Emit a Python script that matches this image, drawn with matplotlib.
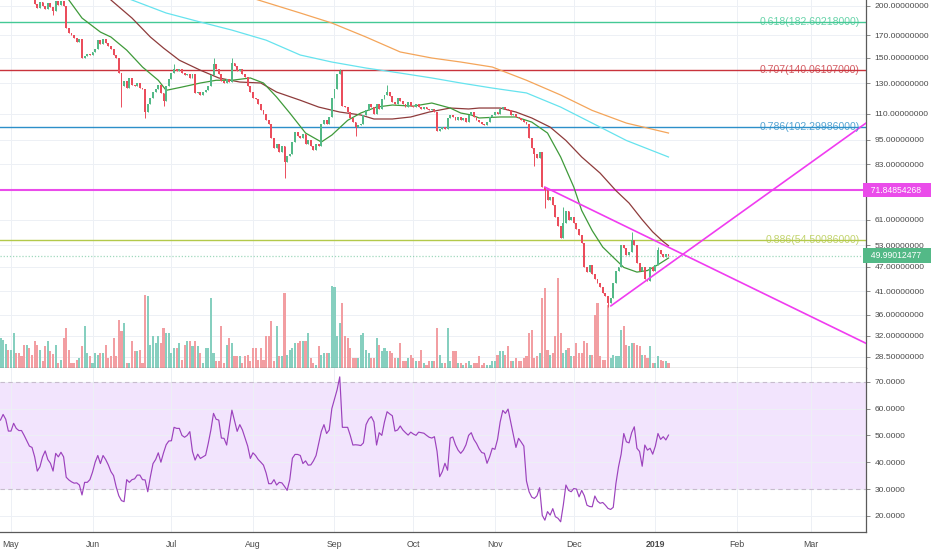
import numpy as np
import pandas as pd
import matplotlib
matplotlib.use('Agg')
import matplotlib.pyplot as plt
from matplotlib import transforms
from matplotlib.ticker import FixedLocator, NullLocator, FormatStrFormatter

plt.rcParams['font.family'] = ['Liberation Sans', 'DejaVu Sans']

# x axis = days counted from 2018-05-01, first candle is 2018-04-27
START = pd.Timestamp('2018-05-01')
FIRST_DAY = -4

close = [
    246, 252, 259, 251,
    262, 268, 256, 249, 241, 236, 243, 229, 218,
    202, 198, 204, 200, 196, 203, 199, 194, 205, 201, 206, 200,
    177, 172, 170, 167, 164, 166, 150, 151, 153, 152,
    155, 157, 165, 162, 166, 163, 160, 157, 152, 150,
    138, 128, 132, 127, 134, 129, 128, 130, 127, 126,
    111, 116, 120, 124, 126, 129, 123, 118, 128, 133,
    138, 141, 139, 141, 138, 136, 137, 134, 137, 123,
    124, 122, 124, 125, 128, 136, 145, 141, 137, 132,
    130, 133, 131, 146, 143, 139, 141, 137, 135, 128,
    124, 120, 119, 116, 112, 110, 106, 104, 96, 91,
    93, 89, 92, 84, 87, 88, 94, 99, 97, 96,
    98, 93, 95, 92, 90, 93, 92, 104, 106, 104,
    108, 120, 126, 137, 139, 115, 114, 111, 107, 105,
    102, 103, 104, 109, 112, 116, 114, 110, 116, 113,
    119, 122, 124, 121, 117, 116, 120, 118, 116, 114,
    117, 115, 114, 116, 114, 113, 114, 113, 112, 113,
    111, 100, 101, 102, 101, 107, 109, 108, 106, 108,
    106, 107, 105, 109, 111, 108, 106, 105, 104, 103,
    105, 108, 109, 111, 110, 113, 114, 113, 112, 109,
    110, 108, 107, 106, 105, 104, 96, 91, 88, 86,
    89, 73, 72, 68, 69, 66, 62, 59, 55, 60,
    64, 61, 62, 60, 58, 56, 53.5, 47, 45.5, 47.5,
    45, 44, 43, 42, 40.5, 40, 38.5, 39.5, 43, 46,
    47, 53, 52, 50, 51, 54.5, 53, 48, 46, 47,
    44, 43.5, 47, 46, 47.5, 51.5, 50.5, 49.5, 50.5, 49.99012477,
]

volume = [
    30, 28, 24, 18,
    18, 35, 15, 15, 12, 23, 23, 20, 13,
    27, 23, 18, 7, 22, 27, 17, 14, 23, 5, 8, 30,
    40, 18, 5, 5, 8, 10, 22, 42, 15, 12,
    5, 15, 13, 15, 15, 23, 10, 12, 30, 12,
    48, 37, 45, 5, 5, 27, 17, 17, 18, 5,
    73, 72, 23, 32, 25, 32, 25, 40, 35, 35,
    15, 20, 20, 25, 8, 23, 27, 27, 22, 27,
    22, 15, 5, 20, 20, 70, 15, 7, 7, 42,
    5, 23, 30, 25, 12, 12, 12, 5, 12, 13,
    7, 20, 20, 8, 20, 8, 32, 32, 47, 7,
    42, 12, 12, 75, 13, 18, 20, 25, 25, 27,
    27, 27, 35, 10, 5, 3, 22, 13, 15, 15,
    15, 82, 81, 32, 45, 65, 32, 30, 20, 10,
    10, 10, 33, 35, 18, 15, 10, 10, 30, 23,
    17, 20, 17, 17, 15, 10, 10, 25, 7, 7,
    10, 13, 10, 7, 7, 18, 5, 3, 7, 7,
    7, 40, 13, 5, 5, 40, 7, 17, 17, 5,
    5, 3, 5, 7, 3, 5, 5, 12, 3, 5,
    3, 3, 7, 7, 13, 17, 17, 13, 22, 7,
    7, 10, 7, 7, 10, 12, 35, 38, 10, 12,
    15, 70, 80, 18, 13, 15, 32, 90, 35, 15,
    18, 20, 12, 12, 25, 15, 15, 27, 25, 13,
    13, 53, 65, 12, 8, 8, 63, 10, 13, 12,
    12, 38, 42, 23, 22, 25, 25, 23, 22, 13,
    13, 10, 22, 5, 5, 12, 8, 7, 7, 5,
]

rsi = [
    55.7, 57.8, 56, 51.6,
    51.6, 54.5, 52.6, 51.8, 51.8, 50, 48, 46, 45.5,
    42, 36.7, 38.3, 42, 44.2, 41, 39.6, 36.7, 43.3, 42, 43.7, 42,
    34.4, 33.4, 32.7, 32.2, 32.3, 31.5, 27.8, 32.5, 32.5, 33.5,
    36.3, 40, 42.5, 39.5, 42.5, 41, 39, 36.5, 35, 30.8,
    27.5, 25.7, 25.3, 33.5, 32.5, 33.5, 33.8, 35.2, 35.2, 33.5,
    33.4, 29, 34.6, 39.5, 41, 43.5, 40, 43.5, 46.5, 47.9,
    48, 53, 52.6, 52.6, 50, 49.3, 50, 51.4, 44, 40.8,
    43, 41.4, 42, 42.6, 47, 52, 58.2, 56, 55.7, 49,
    48.9, 46.4, 53, 59.4, 55.5, 51.5, 54, 52, 49, 46,
    41.4, 43.5, 42.5, 41, 40, 38.9, 36, 32, 32, 33.5,
    31.5, 32.5, 32.3, 31, 29.5, 33.5, 41.5, 42.9, 42.9, 42.5,
    39.5, 40.5, 38.9, 39, 40.5, 42.5, 47, 51.5, 54, 50.7,
    52, 60, 63.5, 67, 71.8, 53, 53, 53, 50, 46.4,
    46.5, 46.4, 46.2, 47.2, 54, 56, 57, 55, 46.4, 51,
    50, 55, 58.8, 58, 57.3, 51.6, 52, 53.5, 52, 51,
    50.1, 51.2, 50.5, 50, 51.2, 51, 50.8, 50, 49.3, 49,
    49.5, 44, 34.6, 36.5, 39.6, 37, 49, 49.4, 46.5, 44.5,
    43.3, 44.5, 46.5, 50, 51, 48.5, 47, 45, 43.6, 43.3,
    39.6, 42, 45.2, 44.8, 48.5, 55, 59.3, 58.2, 59.8, 55,
    50, 45.5, 48.9, 47.5, 46, 33, 29, 27, 26.5, 27.5,
    30.5, 20.2, 18.4, 21.6, 20.3, 22.7, 19.7, 19.1, 17.8, 24,
    31.5, 29.5, 29, 30.2, 30, 27.1, 29.5, 27.5, 24, 23.5,
    23.4, 27.4, 25.5, 24.7, 25, 24, 22.8, 22.4, 23.2, 32,
    38.3, 43, 50.7, 47.6, 47.2, 51, 53.2, 45.2, 44, 38.5,
    46.4, 44.5, 45.2, 43, 46, 50.7, 48.5, 49.5, 48.3, 50.1,
]

# notable wicks (day -> price); other candles drawn without wicks
wick_high = {62: 145, 77: 150, 84: 150, 125: 141, 143: 129, 210: 65.5, 236: 57, 246: 52.5}
wick_low = {16: 190, 42: 114, 51: 107, 58: 115, 104: 77, 131: 97, 199: 82, 203: 65, 227: 37.5}

# moving averages (day, price)
ma_green_d = [17, 22, 27, 34, 38, 44, 50, 56, 59, 65, 72, 78, 84, 91, 96, 101, 106, 112, 118,
              122, 128, 133, 139, 145, 153, 160, 167, 171, 175, 178, 186, 192, 198, 204, 209,
              214, 217, 221, 225, 229, 233, 238, 242, 246, 250]
ma_green_p = [226, 206.6, 186.9, 172.9, 168.2, 156.4, 142.4, 132.3, 125.1, 127.4, 130.3, 132.3,
              132.3, 134.0, 130.3, 120.5, 110.3, 98.7, 93.9, 97.6, 105.9, 110.3, 114.0, 115.3,
              114.6, 116.6, 113.4, 110.3, 109.1, 107.3, 107.9, 107.9, 104.9, 98.7, 86.4, 73.1,
              64.2, 57.4, 52.4, 49.5, 46.8, 45.6, 46.0, 47.5, 49.3]
ma_maroon_d = [34, 38, 46, 53, 58, 64, 72, 79, 87, 95, 101, 110, 117, 125, 133, 138, 145, 152,
               159, 167, 174, 178, 186, 192, 198, 205, 211, 217, 224, 230, 235, 240, 244, 248, 250]
ma_maroon_p = [222, 206.6, 186.9, 168.2, 158.2, 147.9, 139.9, 134.0, 131.0, 130.3, 123.9, 118.4,
               114.0, 110.9, 109.1, 106.7, 106.7, 107.9, 110.9, 113.4, 112.8, 113.4, 113.4, 110.9,
               107.3, 102.0, 94.7, 86.4, 79.0, 71.7, 66.9, 61.0, 57.0, 54.0, 52.8]
ma_cyan_d = [36, 46, 59, 72, 84, 97, 110, 122, 135, 148, 160, 171, 183, 196, 209, 221, 234, 250]
ma_cyan_p = [218, 206.6, 192.2, 182.8, 174.8, 165.3, 152.2, 146.4, 141.6, 137.7, 134.0, 130.3,
             126.7, 123.3, 114.0, 104.3, 94.7, 86.4]
ma_orange_d = [87, 94, 110, 122, 135, 148, 160, 171, 183, 196, 209, 221, 234, 250]
ma_orange_p = [213.6, 206.6, 192.2, 181.8, 168.2, 154.8, 149.7, 146.4, 142.4, 132.3, 121.9,
               111.9, 104.3, 98.7]

fib_ratio = ['0.618', '0.707', '0.786', '0.886']
fib_price = [182.60218, 140.06107, 102.29986, 54.50086]
fib_color = ['#44c995', '#c9333c', '#2d8fc9', '#b3c94a']

resistance = 71.84854268
last_price = 49.99012477

# triangle trend lines (day, price)
tri_upper_d, tri_upper_p = [203.0, 325.1], [73.1, 30.7]
tri_lower_d, tri_lower_p = [228.1, 325.1], [37.8, 104.3]

price_ticks = [200, 170, 150, 130, 110, 95, 83, 61, 53, 47, 41, 36, 32, 28.5]
rsi_ticks = [20, 30, 40, 50, 60, 70]
months = ['2018-05-01', '2018-06-01', '2018-07-01', '2018-08-01', '2018-09-01', '2018-10-01',
          '2018-11-01', '2018-12-01', '2019-01-01', '2019-02-01', '2019-03-01']
month_labels = ['May', 'Jun', 'Jul', 'Aug', 'Sep', 'Oct', 'Nov', 'Dec', '2019', 'Feb', 'Mar']

UP, DOWN = '#53b987', '#eb4d5c'
UP_VOL, DOWN_VOL = '#86cfbf', '#f29ea2'
GRID = '#edf0f5'
TXT = '#4b4b4b'
MAGENTA = '#ea4cea'
VOL_SPAN = 368.0   # volume units covering the whole price panel height

days = np.arange(FIRST_DAY, FIRST_DAY + len(close))
c = np.array(close, dtype=float)
o = np.r_[c[0], c[:-1]]
up = c >= o
hi = np.maximum(o, c)
lo = np.minimum(o, c)
for d, v in wick_high.items():
    hi[d - FIRST_DAY] = v
for d, v in wick_low.items():
    lo[d - FIRST_DAY] = v
month_pos = [(pd.Timestamp(m) - START).days for m in months]

fig = plt.figure(figsize=(9.32, 5.5), dpi=100)
W, H = 932.0, 550.0
ax = fig.add_axes([0, 1 - 368 / H, 866 / W, 368 / H])
ax_rsi = fig.add_axes([0, 1 - 532 / H, 866 / W, (532 - 368) / H], sharex=ax)

# ---- price panel
ax.set_yscale('log')
ax.set_axisbelow(True)
ax.grid(True, color=GRID, lw=0.7)

vol_tr = transforms.blended_transform_factory(ax.transData, ax.transAxes)
ax.bar(days, np.array(volume) / VOL_SPAN, width=0.8, bottom=0,
       color=np.where(up, UP_VOL, DOWN_VOL), transform=vol_tr, zorder=1, lw=0)

right_tr = transforms.blended_transform_factory(ax.transAxes, ax.transData)
for r, p, col in zip(fib_ratio, fib_price, fib_color):
    ax.axhline(p, color=col, lw=1.0, zorder=2)
    ax.text(0.993, p, f'{r}({p:.8f})', transform=right_tr,
            ha='right', va='center', fontsize=7.6, color=col, alpha=0.8, zorder=6)
ax.axhline(resistance, color=MAGENTA, lw=1.5, zorder=2)
ax.axhline(last_price, color=UP, lw=0.9, ls=(0, (1, 1.5)), alpha=0.55, zorder=2)

ax.plot(ma_orange_d, ma_orange_p, color='#f4a55a', lw=0.9, zorder=3)
ax.plot(ma_cyan_d, ma_cyan_p, color='#66e3ee', lw=0.9, zorder=3)
ax.plot(ma_maroon_d, ma_maroon_p, color='#8e3b3b', lw=0.9, zorder=3)
ax.plot(ma_green_d, ma_green_p, color='#3f9a3a', lw=0.9, zorder=3)

cols = np.where(up, UP, DOWN)
ax.vlines(days, lo, hi, colors=cols, lw=0.7, zorder=4)
ax.bar(days, c - o, bottom=o, width=0.72, color=cols, lw=0, zorder=4)

ax.plot(tri_upper_d, tri_upper_p, color='#f03cf0', lw=1.2, zorder=5)
ax.plot(tri_lower_d, tri_lower_p, color='#f03cf0', lw=1.2, zorder=5)

ax.text(1.0, resistance, '  71.84854268   ', transform=right_tr, ha='left', va='center',
        fontsize=6.2, color='white', clip_on=False,
        bbox=dict(boxstyle='square,pad=0.3', fc=MAGENTA, ec='none'))
ax.text(1.0, last_price, '  49.99012477   ', transform=right_tr, ha='left', va='center',
        fontsize=6.2, color='white', clip_on=False,
        bbox=dict(boxstyle='square,pad=0.3', fc=UP, ec='none'))

ax.set_ylim(26.77, 206.6)
ax.set_xlim(-4.18, 325.1)
ax.yaxis.tick_right()
ax.yaxis.set_major_locator(FixedLocator(price_ticks))
ax.yaxis.set_minor_locator(NullLocator())
ax.yaxis.set_major_formatter(FormatStrFormatter('%.8f'))
ax.tick_params(axis='y', labelsize=6.1, labelcolor=TXT, color='#777777', length=3, width=0.6, pad=3)
ax.tick_params(axis='x', labelbottom=False, length=0)
for s in ('left', 'top'):
    ax.spines[s].set_visible(False)
for s in ('right', 'bottom'):
    ax.spines[s].set_color('#5a5a5a')
    ax.spines[s].set_linewidth(0.9)

# ---- RSI panel
ax_rsi.set_axisbelow(True)
ax_rsi.axhspan(30, 70, color='#f2e4fd', lw=0, zorder=0)
ax_rsi.grid(True, color=GRID, lw=0.7)
ax_rsi.axhline(70, color='#c7bccd', lw=0.8, ls=(0, (4, 3)), zorder=1)
ax_rsi.axhline(30, color='#c7bccd', lw=0.8, ls=(0, (4, 3)), zorder=1)
ax_rsi.plot(days, rsi, color='#9c42bd', lw=0.85, zorder=3)
ax_rsi.set_ylim(14, 75.1)
ax_rsi.yaxis.tick_right()
ax_rsi.set_yticks(rsi_ticks)
ax_rsi.yaxis.set_major_formatter(FormatStrFormatter('%.4f'))
ax_rsi.tick_params(axis='y', labelsize=6.1, labelcolor=TXT, color='#777777', length=3, width=0.6, pad=3)
ax_rsi.set_xticks(month_pos)
ax_rsi.set_xticklabels(month_labels)
ax_rsi.tick_params(axis='x', labelsize=6.3, labelcolor=TXT, length=0, pad=6)
ax_rsi.get_xticklabels()[8].set_fontweight('bold')
for s in ('left', 'top'):
    ax_rsi.spines[s].set_visible(False)
for s in ('right', 'bottom'):
    ax_rsi.spines[s].set_color('#5a5a5a')
    ax_rsi.spines[s].set_linewidth(0.9)
ax_rsi.set_xlim(-4.18, 325.1)

fig.savefig('out.png', dpi=100)
